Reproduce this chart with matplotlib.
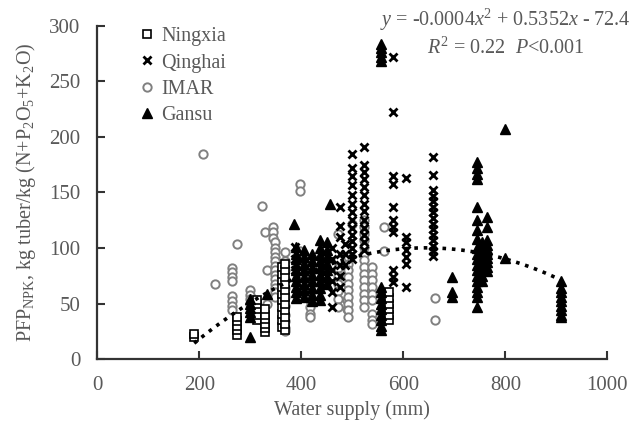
import numpy as np
import matplotlib
matplotlib.use('Agg')
import matplotlib.pyplot as plt

plt.rcParams['font.family'] = ['Liberation Serif', 'DejaVu Serif']
plt.rcParams['mathtext.fontset'] = 'custom'
plt.rcParams['mathtext.rm'] = 'Liberation Serif'
plt.rcParams['mathtext.it'] = 'Liberation Serif:italic'

# --- data: water supply (mm) columns and PFP values ---
ningxia_water = [190, 274, 313, 329, 362, 368, 571]
ningxia_pfp = [
    [20, 23],
    [22, 26, 30, 34, 38],
    [35, 40, 45, 50, 53],
    [24, 28, 32, 36, 40, 45],
    [29, 35, 41, 47, 53, 59, 65, 71, 77, 83],
    [26, 32, 38, 44, 50, 56, 62, 68, 74, 80, 86],
    [35, 40, 45, 50, 55, 60],
]

qinghai_water = [388, 460, 476, 486, 500, 523, 580, 605, 659]
qinghai_pfp = [
    [101, 90, 80],
    [47, 60, 70, 80, 90, 100],
    [137, 120, 110, 95, 85, 75, 65],
    [104, 95, 85],
    [185, 172, 165, 157, 148, 140, 132, 125, 118, 112, 106, 100, 95, 90],
    [191, 175, 168, 162, 155, 148, 140, 133, 125, 118, 112, 105, 98],
    [272, 222, 165, 158, 137, 125, 119, 114, 80, 74, 69],
    [163, 110, 105, 98, 92, 86, 65],
    [182, 166, 152, 147, 142, 137, 132, 127, 122, 117, 112, 107, 102, 97, 93],
]

imar_water = [208, 231, 265, 274, 300, 323, 328, 333, 345, 348, 368, 398,
              418, 440, 472, 490, 492, 500, 522, 539, 563, 663]
imar_pfp = [
    [185],
    [68],
    [82, 78, 74, 70, 57, 52, 48, 44],
    [104],
    [62, 58, 54, 50],
    [138],
    [114],
    [80, 50],
    [119, 114, 109],
    [105, 100, 96, 92, 88, 84, 80, 76, 72, 68, 64, 60, 56],
    [96, 88, 80, 72, 64, 56, 48, 40, 34, 28, 25],
    [158, 151, 97, 85],
    [89, 83, 77, 71, 65, 59, 53, 47, 41, 38],
    [90, 80, 70],
    [113, 89, 82, 75, 68, 61, 54, 47],
    [53, 45],
    [92, 86, 80, 74, 68, 62, 56, 50, 44, 38],
    [122],
    [125, 119, 113, 107, 101, 95, 89, 83, 77, 71, 65, 59, 53, 47],
    [83, 77, 71, 65, 59, 53, 41, 35, 32],
    [119, 97],
    [55, 35],
]

gansu_water = [300, 333, 385, 390, 405, 420, 437, 450, 457, 557, 557,
               696, 745, 755, 765, 800, 910]
gansu_pfp = [
    [20, 38, 42, 46, 50, 54],
    [59],
    [122],
    [101, 95, 90, 85, 80, 75, 70, 65, 60, 55],
    [98, 92, 86, 80, 74, 68, 62, 56],
    [95, 88, 82, 76, 70, 64, 58, 52],
    [107, 100, 94, 88, 82, 76, 70, 64, 58, 53],
    [105, 98, 92, 86, 80, 74, 68],
    [140],
    [284, 280, 276, 272, 268],
    [26, 30, 35, 40, 45, 50, 55, 60, 65],
    [74, 60, 56],
    [177, 172, 167, 162, 137, 125, 116, 108, 100, 95, 90, 85, 80, 75, 70, 65, 60, 56, 47],
    [105, 100, 95, 90, 85, 80, 75, 70],
    [128, 119, 107, 103, 99, 95, 91, 87, 83, 79],
    [207, 91],
    [70, 64, 60, 56, 52, 48, 44, 40, 38],
]

# quadratic trend line shown on the chart
fit_a, fit_b, fit_c = -0.000415, 0.5352, -72.4
fit_range = (190, 910)


def flatten(water, cols):
    xs, ys = [], []
    for w, vals in zip(water, cols):
        xs.extend([w] * len(vals))
        ys.extend(vals)
    return np.array(xs), np.array(ys)


text_color = '#595959'
fig = plt.figure(figsize=(6.4, 4.23), dpi=100)
ax = fig.add_axes([0.152, 0.151, 0.797, 0.788])

x, y = flatten(imar_water, imar_pfp)
ax.plot(x, y, 'o', ms=6, mfc='white', mec='#808080', mew=1.4, label='IMAR', zorder=2)
x, y = flatten(ningxia_water, ningxia_pfp)
ax.plot(x, y, 's', ms=5.5, mfc='white', mec='black', mew=1.2, label='Ningxia', zorder=3)
x, y = flatten(qinghai_water, qinghai_pfp)
ax.plot(x, y, 'x', ms=6, mec='black', mew=2, label='Qinghai', zorder=3)
x, y = flatten(gansu_water, gansu_pfp)
ax.plot(x, y, '^', ms=6.5, mfc='black', mec='black', label='Gansu', zorder=3)

xf = np.linspace(fit_range[0], fit_range[1], 200)
ax.plot(xf, fit_a * xf ** 2 + fit_b * xf + fit_c, color='black', ls=(0, (1, 1.6)), lw=2.6, zorder=4)

ax.set_xlim(0, 1000)
ax.set_ylim(0, 300)
ax.set_xticks(range(0, 1001, 200))
ax.set_yticks(range(0, 301, 50))
ax.spines['top'].set_visible(False)
ax.spines['right'].set_visible(False)
for s in ['left', 'bottom']:
    ax.spines[s].set_color('#333333')
    ax.spines[s].set_linewidth(1.6)
ax.tick_params(direction='in', length=6, width=1.5, color='#333333',
               labelsize=15, labelcolor=text_color, pad=12)
ax.set_xlabel('Water supply (mm)', fontsize=14.5, color=text_color, labelpad=4)
ax.set_ylabel(r'PFP$_{\mathrm{NPK}}$, kg tuber/kg (N+P$_2$O$_5$+K$_2$O)',
              fontsize=14.5, color=text_color, labelpad=8)

handles, labels = ax.get_legend_handles_labels()
order = [labels.index(n) for n in ['Ningxia', 'Qinghai', 'IMAR', 'Gansu']]
leg = ax.legend([handles[i] for i in order], [labels[i] for i in order],
                loc='upper left', bbox_to_anchor=(0.05, 1.05), frameon=False,
                fontsize=14.5, handlelength=0.6, handletextpad=0.4, labelspacing=0.35)
for t in leg.get_texts():
    t.set_color(text_color)

fig.text(0.79, 0.952, r'$y$ = -0.0004$x^2$ + 0.5352$x$ - 72.4', ha='center', va='center',
         fontsize=14.5, color=text_color)
fig.text(0.79, 0.887, r'$R^2$ = 0.22  $P$<0.001', ha='center', va='center',
         fontsize=14.5, color=text_color)

fig.savefig('out.png', dpi=100)
